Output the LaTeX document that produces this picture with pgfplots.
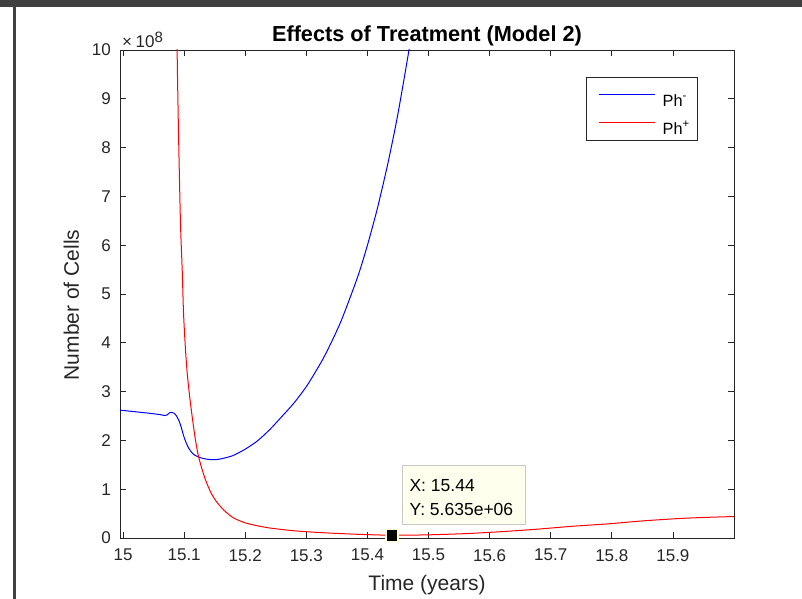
\documentclass[border=0pt]{standalone}
\usepackage{fontspec}
\setmainfont{Liberation Sans}
\usepackage{pgfplots}
\pgfplotsset{compat=1.18}
\definecolor{axgray}{RGB}{38,38,38}
\definecolor{phblue}{RGB}{0,0,255}
\definecolor{phred}{RGB}{255,0,0}
\definecolor{tipbg}{RGB}{255,255,238}
\definecolor{tipedge}{RGB}{200,200,200}
\definecolor{mkedge}{RGB}{255,255,210}
\definecolor{framegray}{RGB}{64,64,64}
\newcommand{\tickfont}{\fontsize{17bp}{20bp}\selectfont}
\begin{document}
\begin{tikzpicture}
\path[use as bounding box] (-120bp,-61bp) rectangle (682bp,538bp);
\fill[framegray] (-120bp,531.3bp) rectangle (682bp,538bp);
\fill[framegray] (-107bp,-61bp) rectangle (-104bp,531.3bp);
\begin{axis}[
  at={(0,0)}, anchor=south west,
  scale only axis, width=614bp, height=488bp,
  xmin=14.995, xmax=16.0, ymin=0, ymax=10,
  clip mode=individual,
  xtick={15,15.1,15.2,15.3,15.4,15.5,15.6,15.7,15.8,15.9},
  ytick={0,1,2,3,4,5,6,7,8,9,10},
  scaled ticks=false,
  tick align=inside, major tick length=6bp,
  axis line style={axgray, line width=0.8bp},
  every tick/.style={axgray, line width=0.8bp},
  tick label style={font=\tickfont, text=axgray},
  /pgf/number format/assume math mode=true,
  xticklabel style={anchor=north, inner sep=0pt, yshift=-11bp},
  yticklabel style={anchor=east, inner sep=0pt, xshift=-9bp},
  title={Effects of Treatment (Model 2)},
  title style={font=\bfseries\fontsize{21.7bp}{25bp}\selectfont, at={(0.5,1)}, anchor=base, yshift=2.5bp, inner sep=0pt},
  xlabel={Time (years)},
  xlabel style={font=\fontsize{21bp}{25bp}\selectfont, text=axgray, at={(0.5,0)}, anchor=base, yshift=-52bp, inner sep=0pt},
  legend style={at={(0.9414,0.9447)}, anchor=north east, draw=axgray, line width=0.8bp, fill=white,
    font=\fontsize{16.3bp}{19bp}\selectfont, row sep=0bp, column sep=7bp, inner xsep=12bp, inner ysep=3.5bp,
    nodes={inner sep=0pt, text height=11.7bp, text depth=0pt, text width=23bp, align=left, text=black},
    cells={anchor=west}},
]
\addplot[draw=phblue, line width=1bp, smooth, tension=0.4,
  legend image code/.code={\path[draw=none] (0bp,-8.5bp) -- (0bp,19.5bp); \draw[draw=phblue, line width=1bp] (0bp,5.7bp) -- (56bp,5.7bp);}] coordinates {
(14.995,2.62) (15.02,2.587) (15.04,2.56) (15.06,2.53) (15.068,2.51) (15.072,2.52)
(15.076,2.565) (15.079,2.575) (15.083,2.56) (15.087,2.51) (15.091,2.42) (15.095,2.28)
(15.099,2.10) (15.103,1.96) (15.108,1.83) (15.114,1.73) (15.12,1.68) (15.128,1.64)
(15.137,1.615) (15.146,1.605) (15.155,1.61) (15.165,1.635) (15.18,1.69) (15.2,1.82)
(15.22,1.99) (15.24,2.22) (15.26,2.49) (15.28,2.77) (15.302,3.14) (15.329,3.71)
(15.356,4.42) (15.384,5.35) (15.400,6.00) (15.416,6.74) (15.433,7.65) (15.449,8.63)
(15.468,10.0) (15.484,11.3)
};
\addlegendentry{Ph\textsuperscript{-}}
\addplot[draw=phred, line width=1bp, smooth, tension=0.4,
  legend image code/.code={\path[draw=none] (0bp,-8.5bp) -- (0bp,19.5bp); \draw[draw=phred, line width=1bp] (0bp,5.7bp) -- (56bp,5.7bp);}] coordinates {
(15.08,30) (15.085,14) (15.0885,10) (15.091,8.16) (15.094,6.45) (15.097,5.43)
(15.099,4.60) (15.102,3.9) (15.105,3.38) (15.109,2.9) (15.113,2.50) (15.118,2.05)
(15.123,1.70) (15.129,1.42) (15.135,1.19) (15.143,0.95) (15.152,0.76) (15.165,0.57)
(15.181,0.41) (15.20,0.31) (15.22,0.25) (15.24,0.205) (15.27,0.16) (15.298,0.13)
(15.34,0.10) (15.386,0.075) (15.44,0.05635) (15.50,0.065) (15.561,0.09) (15.62,0.13)
(15.677,0.18) (15.735,0.24) (15.794,0.29) (15.85,0.35) (15.911,0.40) (15.96,0.425)
(16.0,0.44)
};
\addlegendentry{Ph\textsuperscript{+}}
\draw[tipedge, fill=tipbg, line width=0.8bp] ([xshift=10.5bp,yshift=11.3bp]axis cs:15.44,0.05635) rectangle ++(123bp,59bp);
\node[anchor=base west, inner sep=0pt, font=\fontsize{17.5bp}{20bp}\selectfont] at ([xshift=17.5bp,yshift=43.3bp]axis cs:15.44,0.05635) {X: 15.44};
\node[anchor=base west, inner sep=0pt, font=\fontsize{17.5bp}{20bp}\selectfont] at ([xshift=17.5bp,yshift=19.3bp]axis cs:15.44,0.05635) {Y: 5.635e+06};
\addplot[forget plot, only marks, mark=square*, mark size=6bp, mark options={fill=black, draw=mkedge, line width=1.5bp}] coordinates {(15.44,0.05635)};
\node[anchor=base west, inner sep=0pt, font=\tickfont, text=axgray] at ([xshift=2bp,yshift=2bp]rel axis cs:0,1) {×\hspace{3.5bp}10\raisebox{5.5bp}{\fontsize{15bp}{17bp}\selectfont 8}};
\end{axis}
\node[rotate=90, anchor=base, inner sep=0pt, font=\fontsize{21bp}{25bp}\selectfont, text=axgray] at (-41bp,233bp) {Number of Cells};
\end{tikzpicture}
\end{document}
